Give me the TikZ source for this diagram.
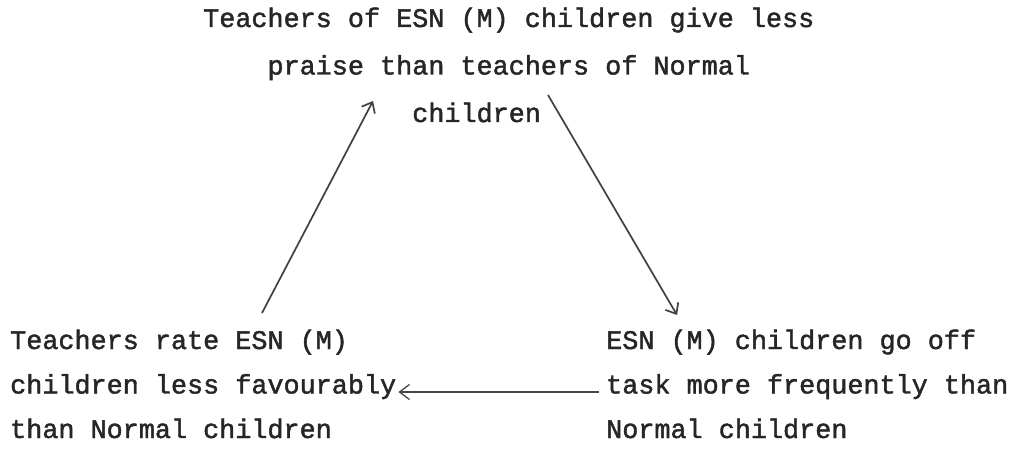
\documentclass[tikz,border=0pt]{standalone}
\usepackage{fontspec}
\usetikzlibrary{arrows.meta,calc}
\newfontfamily\typewriter[FakeBold=1.6]{Liberation Mono}
% stack of typed lines, baseline of the whole box = baseline of the first line
\newcommand\typedlines[2]{\vtop{\baselineskip=#1\lineskiplimit=-100pt\lineskip=0pt #2}}
\newcommand\indentchars[1]{\hphantom{#1}}
\tikzset{
  block/.style={inner sep=0pt, anchor=base west,
    font=\typewriter\fontsize{26.8}{44}\selectfont, text=black!85},
  link/.style={line width=1.7pt, draw=black!75,
    -{Straight Barb[length=9pt,width=15pt,line width=1.7pt]}},
  typedlink/.style={line width=1.5pt, draw=black!72,
    -{Straight Barb[length=10pt,width=15pt,line width=1.3pt]}},
}
\begin{document}
\begin{tikzpicture}[x=1pt,y=-1pt]
  \useasboundingbox (0,0) rectangle (1010,452);

  % the three statements of the cycle
  \node[block] (praise) at (203,27) {\typedlines{47.5pt}{%
      \hbox{Teachers of ESN (M) children give less}%
      \hbox{\indentchars{xxxx}praise than teachers of Normal}%
      \hbox{\indentchars{xxxxxxxxxxxxx}children}}};
  \node[block] (rating) at (10,349) {\typedlines{44.5pt}{%
      \hbox{Teachers rate ESN (M)}%
      \hbox{children less favourably}%
      \hbox{than Normal children}}};
  \node[block] (offtask) at (606,349) {\typedlines{44.5pt}{%
      \hbox{ESN (M) children go off}%
      \hbox{task more frequently than}%
      \hbox{Normal children}}};

  % arrows closing the cycle
  \draw[link] ($(rating.base west)+(252,-36)$) -- ($(praise.base west)+(170,74)$);
  \draw[link] ($(praise.base west)+(345,68)$) -- ($(offtask.base west)+(71,-34)$);
  \draw[typedlink] ($(offtask.base west)+(-7,43)$) -- ($(rating.base east)+(2,43)$);
\end{tikzpicture}
\end{document}
